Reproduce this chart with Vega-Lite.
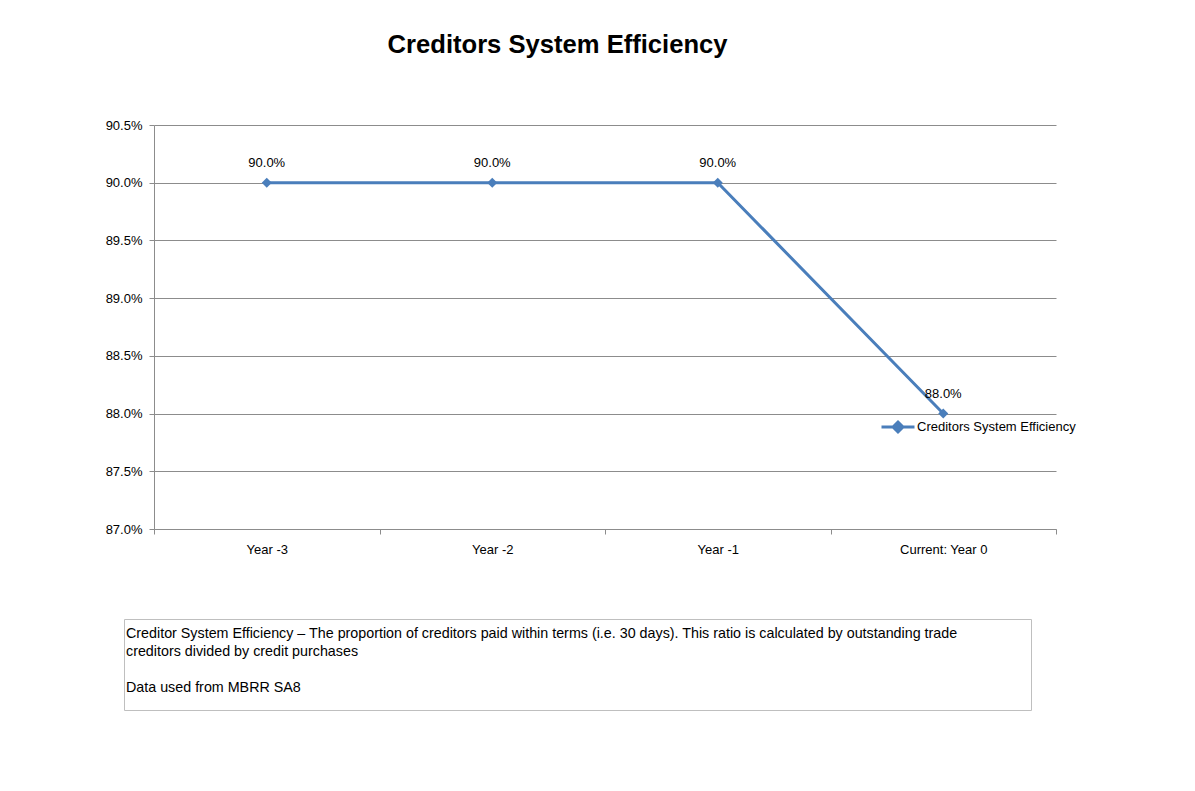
{
  "$schema": "https://vega.github.io/schema/vega-lite/v6.json",
  "background": "white",
  "padding": {"left": 105, "top": 33, "right": 5, "bottom": 5},
  "title": {"text": "Creditors System Efficiency", "fontSize": 25.6, "fontWeight": "bold", "font": "Liberation Sans", "color": "black", "anchor": "middle", "offset": 60, "dx": -33},
  "config": {"font": "Liberation Sans", "view": {"stroke": null}},
  "spacing": 62,
  "vconcat": [
    {
      "width": 932,
      "height": 404,
      "data": {"values": [
        {"period": "Year -3", "value": 0.90, "series": "Creditors System Efficiency"},
        {"period": "Year -2", "value": 0.90, "series": "Creditors System Efficiency"},
        {"period": "Year -1", "value": 0.90, "series": "Creditors System Efficiency"},
        {"period": "Current: Year 0", "value": 0.88, "series": "Creditors System Efficiency"}
      ]},
      "encoding": {
        "x": {"field": "period", "type": "nominal", "sort": null,
          "scale": {"type": "band", "paddingInner": 0, "paddingOuter": 0, "range": [30, 932]},
          "axis": {"title": null, "labelAngle": 0, "tickBand": "extent", "tickSize": 5, "tickColor": "#8C8C8C", "domainColor": "#8C8C8C", "labelFontSize": 13, "labelColor": "black", "labelPadding": 9, "grid": false}},
        "y": {"field": "value", "type": "quantitative",
          "scale": {"domain": [0.87, 0.905], "nice": false, "zero": false},
          "axis": {"title": null, "offset": -30, "values": [0.87, 0.875, 0.88, 0.885, 0.89, 0.895, 0.9, 0.905], "format": ".1%", "tickSize": 5, "tickColor": "#8C8C8C", "domainColor": "#8C8C8C", "gridColor": "#8C8C8C", "grid": true, "labelFontSize": 13, "labelColor": "black", "labelPadding": 7}}
      },
      "layer": [
        {
          "mark": {"type": "line", "strokeWidth": 3},
          "encoding": {
            "color": {"field": "series", "type": "nominal", "scale": {"range": ["#4A7EBB"]},
              "legend": {"orient": "none", "legendX": 756, "legendY": 284, "title": null, "symbolType": "M-1,0H1M-0.3,0L0,-0.3L0.3,0L0,0.3Z", "symbolSize": 1089, "symbolStrokeWidth": 3, "symbolFillColor": "#4A7EBB", "symbolStrokeColor": "#4A7EBB", "labelFontSize": 13, "labelColor": "black", "labelOffset": 1, "padding": 0}}
          }
        },
        {
          "mark": {"type": "point", "shape": "diamond", "filled": true, "size": 100, "opacity": 1},
          "encoding": {"color": {"field": "series", "type": "nominal"}}
        },
        {
          "mark": {"type": "text", "dy": -20, "fontSize": 13, "color": "black"},
          "encoding": {"text": {"field": "value", "type": "quantitative", "format": ".1%"}}
        }
      ]
    },
    {
      "width": 907,
      "height": 91,
      "view": {"stroke": "#BFBFBF", "strokeWidth": 1},
      "data": {"values": [
        {"line": 1, "text": "Creditor System Efficiency –  The proportion of creditors paid within terms (i.e. 30 days). This ratio is calculated by  outstanding trade"},
        {"line": 2, "text": "creditors divided by credit purchases"},
        {"line": 4, "text": "Data used from MBRR SA8"}
      ]},
      "mark": {"type": "text", "align": "left", "baseline": "middle", "dx": 2, "fontSize": 14.3, "color": "black"},
      "encoding": {
        "x": {"datum": 0, "type": "quantitative", "scale": {"domain": [0, 1]}, "axis": null},
        "y": {"field": "line", "type": "quantitative", "scale": {"domain": [0.1667, 5.2222], "reverse": true}, "axis": null},
        "text": {"field": "text"}
      }
    }
  ]
}
